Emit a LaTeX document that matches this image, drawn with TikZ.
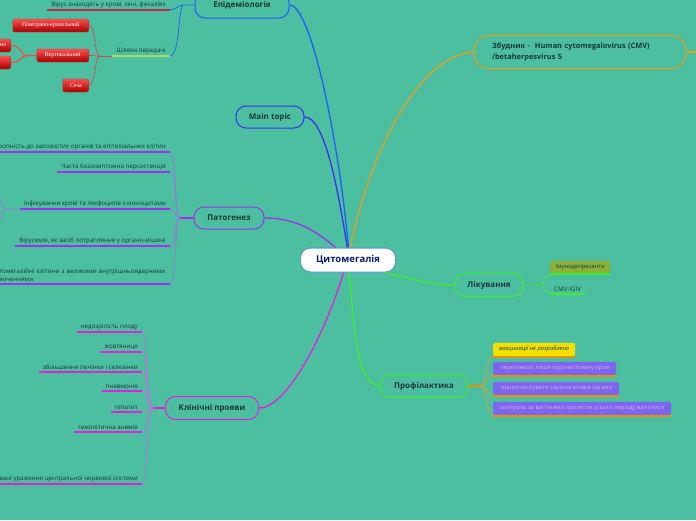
\documentclass[tikz,border=0pt]{standalone}
\usepackage{fontspec}
\setmainfont{Open Sans}
\newfontfamily\btnfont{Liberation Serif}
\usepackage{tikz}
\usetikzlibrary{positioning,calc}
\definecolor{bgc}{HTML}{4CBFA0}
\definecolor{txt}{HTML}{163838}
\definecolor{ctrc}{HTML}{5B9BD5}
\definecolor{epic}{HTML}{1F5FFF}
\definecolor{mtc}{HTML}{3A30F0}
\definecolor{ptgc}{HTML}{A030F0}
\definecolor{ptgl}{HTML}{A070E0}
\definecolor{clc}{HTML}{E020E0}
\definecolor{cll}{HTML}{C070E0}
\definecolor{zbc}{HTML}{E8A020}
\definecolor{grc}{HTML}{3CEE30}
\definecolor{prl}{HTML}{D0A040}
\definecolor{prc}{HTML}{F09000}
\definecolor{virc}{HTML}{C0284A}
\definecolor{shc}{HTML}{A8D860}
\definecolor{rbl}{HTML}{C85050}
\definecolor{vio}{HTML}{7B66F0}
\definecolor{viot}{HTML}{E8A6D8}
\definecolor{yel}{HTML}{F2E000}
\definecolor{olv}{HTML}{8BB13A}

\begin{document}
\begin{tikzpicture}[x=1pt,y=-1pt,
  topic/.style={draw,line width=1pt,rounded corners=10pt,minimum height=23pt,
    font=\fontsize{8}{9}\selectfont\bfseries,text=txt,inner sep=0pt},
  leaf/.style={font=\fontsize{6.2}{7.6}\selectfont,text=txt,inner xsep=4pt,inner ysep=2.2pt,anchor=south east},
  ul/.style={line width=1.5pt},
  con/.style={line width=1.3pt},
  thin/.style={line width=0.7pt},
  redbtn/.style={draw=rbl!80!black,top color=red!70!white,bottom color=red!65!black,rounded corners=2pt,
    minimum height=13pt,inner xsep=3pt,inner ysep=0pt,text=white,font=\btnfont\fontsize{5.9}{6}\selectfont,anchor=east},
  tag/.style={rounded corners=1.5pt,minimum height=13pt,inner xsep=4pt,inner ysep=0pt,anchor=south west,
    font=\fontsize{5.8}{7}\selectfont}]
  \useasboundingbox (0,0) rectangle (696,520);
  \clip (0,0) rectangle (696,520);
  \fill[bgc] (0,0) rectangle (696,520);

  % main topics
  \node[topic,draw=epic,minimum width=94pt,minimum height=26pt] (epid) at (242,5) {Епідеміологія};
  \node[topic,draw=mtc,minimum width=68pt,minimum height=22pt] (mtop) at (270,117) {Main topic};
  \node[topic,draw=ptgc,minimum width=70pt,minimum height=22pt] (ptg) at (229,218) {Патогенез};
  \node[topic,draw=clc,minimum width=93pt] (clin) at (212,408) {Клінічні прояви};
  \node[topic,draw=zbc,minimum width=212pt,minimum height=33pt,rounded corners=15pt,
    font=\fontsize{7.4}{11}\selectfont\bfseries,align=left,text width=176pt] (zb) at (580,52)
    {Збудник -\ \ Human cytomegalovirus (CMV)\\/betaherpesvirus 5};
  \node[topic,draw=grc,minimum width=68pt] (lik) at (489,285) {Лікування};
  \node[topic,draw=grc,minimum width=87pt] (prof) at (424,386) {Профілактика};
  \node[topic,draw=ctrc,fill=white,minimum width=95pt,minimum height=24pt,
    font=\fontsize{9.5}{10}\selectfont\bfseries,text=txt!60!blue!80!black] (cmv) at (348,260) {};

  \coordinate (zbr) at (700,52);
  \draw[con,zbc] (zb.east) -- (zbr);
  \draw[con,epic] (cmv.88) .. controls (340,150) and (312,5) .. (epid.east);
  \draw[con,mtc] (cmv.93) .. controls (338,190) and (325,117) .. (mtop.east);
  \draw[con,ptgc] (cmv.135) .. controls (315,230) and (295,218) .. (ptg.east);
  \draw[con,clc] (cmv.-110) .. controls (330,320) and (290,408) .. (clin.east);
  \draw[con,zbc] (cmv.80) .. controls (370,150) and (420,55) .. (zb.west);
  \draw[con,grc] (cmv.-19) .. controls (420,280) and (430,285) .. (lik.west);
  \draw[con,grc] (cmv.-85) .. controls (355,340) and (358,384) .. (prof.west);
  \node[topic,draw=ctrc,fill=white,minimum width=95pt,minimum height=24pt,
    font=\fontsize{9.5}{10}\selectfont\bfseries,text=txt!60!blue!80!black] at (cmv) {Цитомегалія};

  % epidemiology
  \coordinate (epk) at (183,5);
  \node[leaf] (vir) at (170,10) {Вірус знаходять у крові, сечі, фекаліях};
  \node[leaf] (shl) at (170,56) {Шляхи передачі};
  \draw[ul,virc] (vir.south west) -- (vir.south east);
  \draw[ul,shc] (shl.south west) -- (shl.south east);
  \draw[thin,epic] (epid.west) -- (epk) .. controls (178,5) and (176,10) .. (vir.south east);
  \draw[thin,epic] (epk) .. controls (178,10) and (180,56) .. (shl.south east);
  \coordinate (shk) at (100,56);
  \draw[thin,rbl] (shk) -- (shl.south west);
  \node[redbtn,minimum width=76pt] (rb1) at (89,25.5) {Повітряно-крапельний};
  \node[redbtn,minimum width=52pt] (rb2) at (89,55.5) {Вертикальний};
  \node[redbtn,minimum width=26pt] (rb3) at (89,85.5) {Сеча};
  \node[redbtn,minimum width=60pt] (rb4) at (11,45.5) {Внутрішньоутробно};
  \node[redbtn,minimum width=60pt] (rb5) at (11,62.5) {Інтранатальна};
  \foreach \n in {1,2,3} {\draw[thin,rbl] (rb\n.east) .. controls (96,{25.5+30*(\n-1)}) and (94,56) .. (shk);}
  \coordinate (vk) at (27,55.5);
  \draw[line width=1pt,red!75!white] (rb2.west) -- (vk) .. controls (20,55.5) and (22,45.5) .. (rb4.east);
  \draw[line width=1pt,red!75!white] (vk) .. controls (20,55.5) and (22,62.5) .. (rb5.east);

  % pathogenesis
  \coordinate (ptk) at (180,218);
  \draw[ul,ptgc] (ptg.west) -- (ptk);
  \foreach \n/\y/\t in {1/152/Тропність до залозистих органів та епітеліальних клітин,
      2/172/Часта безсимптомна персистенція,
      3/209/Інфікування крові та лімфоцитів з моноцитами,
      4/246/{Вірусемія, як засіб потрапляння у органи-мішені}} {
    \node[leaf] (pt\n) at (170,\y) {\t};
    \draw[ul,ptgc] (pt\n.south west) -- (pt\n.south east);
    \draw[thin,ptgl] (ptk) .. controls (174,218) and (177,\y) .. (pt\n.south east);
  }
  \node[leaf,align=left,text width=175pt] (pt5) at (170,284)
    {Цитомегалійні клітини з великими внутрішньоядерними\\включеннями};
  \draw[ul,ptgc] (pt5.south west) -- (pt5.south east);
  \draw[thin,ptgl] (ptk) .. controls (174,218) and (177,284) .. (pt5.south east);
  \coordinate (ifk) at (6,209);
  \coordinate (if1) at (-4,196);
  \coordinate (if2) at (-4,222);
  \draw[thin,ptgl] (pt3.south west) -- (ifk) .. controls (2,209) and (2,198) .. (if1);
  \draw[thin,ptgl] (ifk) .. controls (2,209) and (2,220) .. (if2);

  % clinical signs
  \coordinate (clk) at (153,408);
  \draw[ul,clc] (clin.west) -- (clk);
  \foreach \n/\y/\t in {1/332/недозрілість плоду,2/352/жовтяниця,3/372/збільшення печінки і селезінки,
      4/391/пневмонія,5/412/гепатит,6/432/гемолітична анемія,
      7/484/Генералізовані ураження центральної нервової системи} {
    \node[leaf] (cl\n) at (142,\y) {\t};
    \draw[ul,clc] (cl\n.south west) -- (cl\n.south east);
    \draw[thin,cll] (clk) .. controls (146,408) and (148,\y) .. (cl\n.south east);
  }

  % treatment
  \coordinate (lkk) at (540,285);
  \node[tag,fill=olv,text=txt,minimum width=60pt] (lk1) at (550,274) {Імунодепресанти};
  \node[leaf,anchor=south west] (lk2) at (550,294) {CMV-IGIV};
  \draw[ul,grc] (lk1.south west) -- (lk1.south east);
  \draw[ul,grc] (lk2.south west) -- (lk2.south east);
  \draw[thin,grc] (lik.east) -- (lkk) .. controls (545,285) and (544,275) .. (lk1.south west);
  \draw[thin,grc] (lkk) .. controls (545,285) and (544,294) .. (lk2.south west);

  % prevention
  \coordinate (prk) at (481,386);
  \draw[ul,prc] (prof.east) -- (prk);
  \node[tag,fill=yel,text=txt,minimum width=82pt,font=\fontsize{5.8}{7}\selectfont\itshape] (pr1) at (493,356) {вакцинації не розроблено};
  \node[tag,fill=vio,text=viot,minimum width=123pt] (pr2) at (493,375) {переливати лише серонегативну кров};
  \node[tag,fill=vio,text=viot,minimum width=126pt] (pr3) at (493,395) {трансплантувати серонегативні органи};
  \node[tag,fill=vio,text=viot,minimum width=178pt] (pr4) at (493,415) {контроль за вагітними протягом усього періоду вагітності};
  \foreach \n in {1,...,4} {
    \draw[ul,prc] ([yshift=-0.8pt]pr\n.south west) -- ([yshift=-0.8pt]pr\n.south east);
    \draw[thin,prl] (prk) .. controls (487,386) and ($(pr\n.south west)+(-7,0)$) .. (pr\n.south west);
  }
\end{tikzpicture}
\end{document}
